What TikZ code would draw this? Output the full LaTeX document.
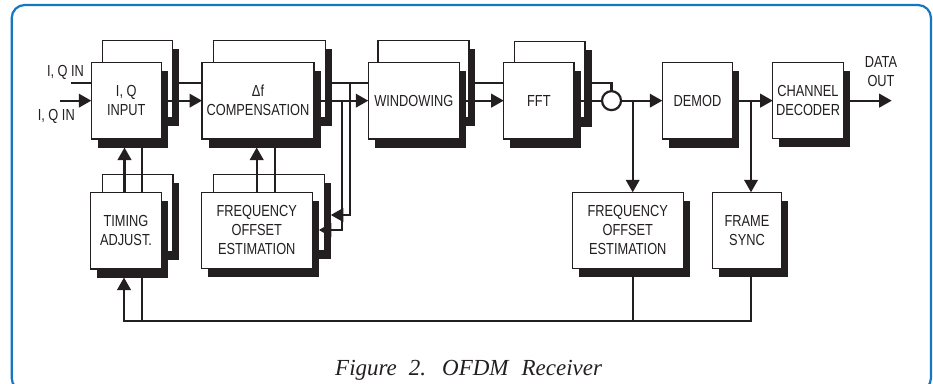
\documentclass[tikz,border=0pt]{standalone}
\usepackage{fontspec}
\usetikzlibrary{arrows.meta}
\newfontfamily\lblfont[FakeStretch=0.8]{Liberation Sans}
\newfontfamily\capfont{Liberation Serif}
\definecolor{ink}{HTML}{231F20}
\definecolor{rim}{HTML}{1477C2}

\tikzset{
  blk/.style={draw=ink, fill=white, line width=1.2pt, inner sep=0pt, outer sep=0pt,
    align=center, text=ink, font=\lblfont\fontsize{16}{19}\selectfont},
  shade/.style={fill=ink, draw=none, inner sep=0pt, outer sep=0pt},
  wire/.style={draw=ink, line width=2.3pt},
  arr/.style={wire, -{Triangle[length=12.5pt,width=13.5pt]}},
  lbl/.style={font=\lblfont\fontsize{16}{19}\selectfont, text=ink, align=center, inner sep=0pt},
}

% single box with drop shadow: name, x0, y0, x1, y1, label
\newcommand\flatblock[6]{%
  \pgfmathsetmacro\bkW{#4-#2}\pgfmathsetmacro\bkH{#5-#3}%
  \pgfmathsetmacro\bkX{(#2+#4)/2}\pgfmathsetmacro\bkY{(#3+#5)/2}%
  \node[shade, minimum width=\bkW pt, minimum height=\bkH pt] (#1s) at (\bkX+6.5,\bkY+8.5) {};
  \node[blk, minimum width=\bkW pt, minimum height=\bkH pt] (#1) at (\bkX,\bkY) {#6};
}
% box stacked on a second one behind it: name, x0, y0, x1, y1, dx, dy, label
\newcommand\stackblock[8]{%
  \pgfmathsetmacro\bkW{#4-#2}\pgfmathsetmacro\bkH{#5-#3}%
  \pgfmathsetmacro\bkX{(#2+#4)/2}\pgfmathsetmacro\bkY{(#3+#5)/2}%
  \pgfmathsetmacro\bkRX{\bkX+#6}\pgfmathsetmacro\bkRY{\bkY+#7}%
  \node[shade, minimum width=\bkW pt, minimum height=\bkH pt] (#1bs) at (\bkRX+6.5,\bkRY+8.5) {};
  \node[blk, minimum width=\bkW pt, minimum height=\bkH pt] (#1b) at (\bkRX,\bkRY) {};
  \node[shade, minimum width=\bkW pt, minimum height=\bkH pt] (#1s) at (\bkX+6.5,\bkY+8.5) {};
  \node[blk, minimum width=\bkW pt, minimum height=\bkH pt] (#1) at (\bkX,\bkY) {#8};
}

\begin{document}
\begin{tikzpicture}[x=1pt, y=-1pt]
\useasboundingbox (0,0) rectangle (933,383);
\clip (0,0) rectangle (933,383);

% outer frame
\draw[rim, line width=2.2pt, rounded corners=13pt] (11.7,5) rectangle (931,391);

% blocks
\stackblock{iq}{91.3}{62.3}{161.3}{139}{11}{-21.6}{I, Q\\INPUT}
\stackblock{comp}{202}{62.3}{314}{139}{11.5}{-21.6}{Δf\\COMPENSATION}
\stackblock{win}{368.3}{62.3}{459.3}{139}{9.6}{-21.6}{WINDOWING}
\stackblock{fft}{503.7}{62.3}{574}{139}{11}{-21}{FFT}
\stackblock{tim}{90.7}{192.3}{161.3}{269}{11.6}{-17.6}{TIMING\\ADJUST.}
\stackblock{foea}{201.3}{192.3}{312.3}{268.3}{12}{-17.6}{FREQUENCY\\OFFSET\\ESTIMATION}
\flatblock{demod}{662.3}{62.8}{732.7}{139}{DEMOD}
\flatblock{chdec}{772.7}{62.3}{843.3}{138.5}{CHANNEL\\DECODER}
\flatblock{foeb}{572.3}{192.3}{683.3}{268.3}{FREQUENCY\\OFFSET\\ESTIMATION}
\flatblock{fs}{712.3}{192.3}{781.7}{268.3}{FRAME\\SYNC}

\node[circle, draw=ink, line width=2.2pt, fill=white, minimum size=19pt, inner sep=0pt, outer sep=0pt] (mix) at (611.5,100.65) {};

% signal levels and junctions
\coordinate (hi) at (0,83.3);
\coordinate (mid) at (0,100.65);
\coordinate (inA) at (70.7,83.3);
\coordinate (inB) at (60,100.65);
\coordinate (out) at (891.7,100.65);
\coordinate (ja) at (350,83.3);
\coordinate (ka) at (350,215);
\coordinate (jb) at (341.7,100.65);
\coordinate (kb) at (341.7,230);
\coordinate (ba) at (632.7,100.65);
\coordinate (bb) at (751,100.65);
\coordinate (fb) at (124,321);

% labels
\node[lbl] (inAl) at (65.5,72.7) {I, Q IN};
\node[lbl] (inBl) at (56.3,116) {I, Q IN};
\node[lbl] (outl) at (881,71.5) {DATA\\OUT};

% main path
\draw[wire] (inA) -- (inA -| iq.west);
\draw[arr] (inB) -- (inB -| iq.west);
\draw[arr] (iq.east |- mid) -- (comp.west |- mid);
\draw[wire] (iqb.east |- hi) -- (comp.west |- hi);
\draw[arr] (comp.east |- mid) -- (win.west |- mid);
\draw[wire] (compb.east |- hi) -- (win.west |- hi);
\draw[arr] (win.east |- mid) -- (fft.west |- mid);
\draw[wire] (winb.east |- hi) -- (fft.west |- hi);
\draw[wire] (fft.east |- mid) -- (mix.west);
\draw[wire] (fftb.east |- hi) -| (mix.north);
\draw[arr] (mix.east) -- (demod.west |- mid);
\draw[arr] (demod.east |- mid) -- (chdec.west |- mid);
\draw[arr] (chdec.east |- mid) -- (out);

% branches down to the estimators
\draw[arr] (ja) -- (ka) -- (ka -| foeabs.east);
\draw[arr] (jb) -- (kb) -- (kb -| foeas.east);
\draw[arr] (ba) -- (ba |- foeb.north);
\draw[arr] (bb) -- (bb |- fs.north);

% vertical links between the rows
\draw[arr] ([xshift=-1.5pt]tim.north) -- ([xshift=-1.5pt]tim.north |- iqs.south);
\draw[wire] ([xshift=16pt]tim.north |- iqs.south) -- ([xshift=16pt]tim.north);
\draw[arr] ([xshift=-0.1pt]foea.north) -- ([xshift=-0.1pt]foea.north |- comps.south);
\draw[wire] ([xshift=18.2pt]foea.north |- comps.south) -- ([xshift=18.2pt]foea.north);

% feedback to timing adjustment
\draw[arr] (bb |- fss.south) |- (fb) -- (fb |- tims.south);
\draw[wire] (ba |- foebs.south) -- (ba |- fb);
\draw[wire] ([xshift=15.7pt]tim.south |- tims.south) -- ([xshift=15.7pt]tim.south |- fb);

% caption
\node[anchor=base west, inner sep=0pt, text=ink, font=\capfont\itshape\fontsize{23}{27}\selectfont] (cap) at (335,375)
  {Figure\hspace{12pt}2.\hspace{16pt}OFDM\hspace{13pt}Receiver};
\end{tikzpicture}
\end{document}
